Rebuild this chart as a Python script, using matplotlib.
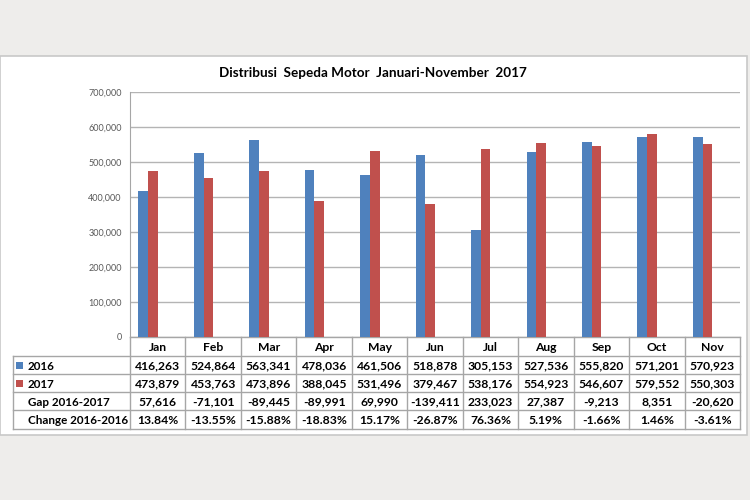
import numpy as np
import matplotlib
matplotlib.use("Agg")
import matplotlib.pyplot as plt
from matplotlib.patches import Rectangle

plt.rcParams['font.family'] = ['Lato', 'DejaVu Sans']

months = ["Jan", "Feb", "Mar", "Apr", "May", "Jun", "Jul", "Aug", "Sep", "Oct", "Nov"]
sales_2016 = [416263, 524864, 563341, 478036, 461506, 518878, 305153, 527536, 555820, 571201, 570923]
sales_2017 = [473879, 453763, 473896, 388045, 531496, 379467, 538176, 554923, 546607, 579552, 550303]
gap_labels = ["57,616", "-71,101", "-89,445", "-89,991", "69,990", "-139,411",
              "233,023", "27,387", "-9,213", "8,351", "-20,620"]
change_labels = ["13.84%", "-13.55%", "-15.88%", "-18.83%", "15.17%", "-26.87%",
                 "76.36%", "5.19%", "-1.66%", "1.46%", "-3.61%"]
row_labels = ["2016", "2017", "Gap 2016-2017", "Change 2016-2016"]
yticks = [0, 100000, 200000, 300000, 400000, 500000, 600000, 700000]

BLUE = "#4f81bd"
RED = "#c0504d"
GRID = "#b4b4b4"
BORDER = "#a6a6a6"
BG = "#eeedeb"

W, H = 750, 500
fig = plt.figure(figsize=(7.5, 5), dpi=100)
fig.patch.set_facecolor(BG)

# pixel-space overlay for panel and table
pax = fig.add_axes([0, 0, 1, 1], zorder=0)
pax.set_xlim(0, W)
pax.set_ylim(H, 0)
pax.axis("off")
pax.add_patch(Rectangle((0, 56), 747, 379, facecolor="white", edgecolor="#c8c8c8", lw=1.2))

# chart axes
x0, x1, ytop, ybot = 130, 740, 92, 337
ax = fig.add_axes([x0 / W, 1 - ybot / H, (x1 - x0) / W, (ybot - ytop) / H], zorder=1)
ax.patch.set_alpha(0)
x = np.arange(len(months))
bw = 0.175
ax.bar(x - 0.262, sales_2016, bw, color=BLUE, zorder=3)
ax.bar(x - 0.087, sales_2017, bw, color=RED, zorder=3)
ax.set_xlim(-0.5, len(months) - 0.5)
ax.set_ylim(0, 700000)
ax.set_yticks(yticks)
ax.set_yticklabels([f"{v:,}" for v in yticks], fontsize=6.5, color="#595959")
ax.tick_params(axis="y", length=0, pad=6)
ax.set_xticks([])
ax.yaxis.grid(True, color=GRID, lw=1.0, zorder=0)
for s in ["top", "right", "bottom"]:
    ax.spines[s].set_visible(False)
ax.spines["left"].set_color(BORDER)

fig.text(373 / W, 1 - 73 / H, "Distribusi  Sepeda Motor  Januari-November  2017",
         ha="center", va="center", fontsize=9.7, fontweight="bold", color="black")

# data table
tl, tr = 13, 740
cw = (tr - x0) / len(months)
row_y = [337, 356, 374, 392, 410, 429]
# horizontal lines
pax.plot([x0, tr], [row_y[0], row_y[0]], color=BORDER, lw=1)
for yy in row_y[1:]:
    pax.plot([tl, tr], [yy, yy], color=BORDER, lw=1)
# vertical lines
pax.plot([tl, tl], [row_y[1], row_y[-1]], color=BORDER, lw=1)
for i in range(len(months) + 1):
    xx = x0 + i * cw
    pax.plot([xx, xx], [row_y[0], row_y[-1]], color=BORDER, lw=1)

fs = 8.7
for i, m in enumerate(months):
    cx = x0 + (i + 0.5) * cw
    pax.text(cx, (row_y[0] + row_y[1]) / 2 + 1, m, ha="center", va="center",
             fontsize=fs, fontweight="bold")
    rows = [f"{sales_2016[i]:,}", f"{sales_2017[i]:,}", gap_labels[i], change_labels[i]]
    for r, t in enumerate(rows):
        pax.text(cx, (row_y[r + 1] + row_y[r + 2]) / 2 + 1, t, ha="center", va="center",
                 fontsize=fs, fontweight="bold")

for r, lab in enumerate(row_labels):
    cy = (row_y[r + 1] + row_y[r + 2]) / 2 + 1
    pax.text(28, cy, lab, ha="left", va="center", fontsize=8.4, fontweight="bold")
for r, c in enumerate([BLUE, RED]):
    cy = (row_y[r + 1] + row_y[r + 2]) / 2
    pax.add_patch(Rectangle((16, cy - 3), 6.5, 6.5, facecolor=c, edgecolor="none"))

fig.savefig("out.png", dpi=100, facecolor=BG)
